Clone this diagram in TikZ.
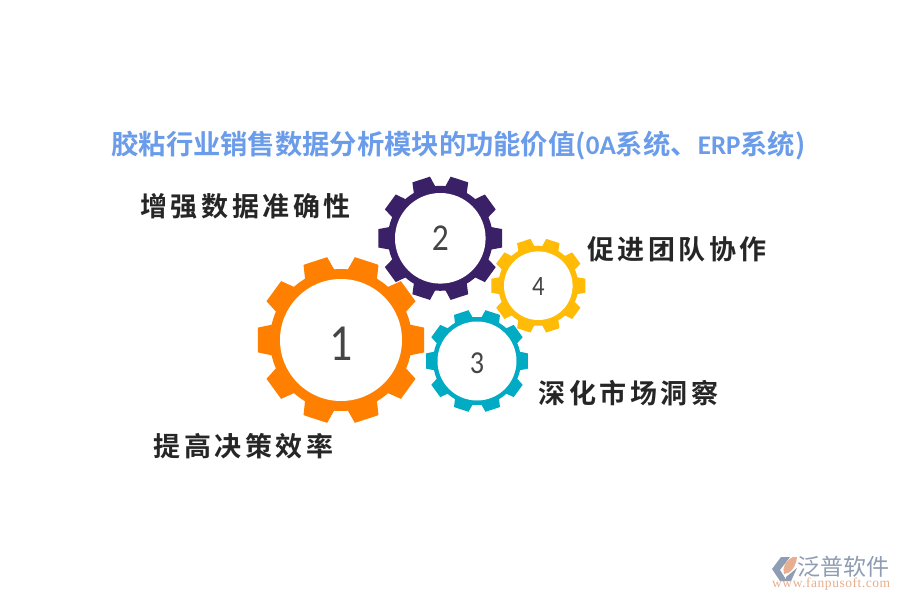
\documentclass[tikz,border=0pt]{standalone}
\usepackage{fontspec}
\setmainfont{Noto Sans CJK SC}
\newfontfamily\titlefont{Noto Sans CJK SC Bold}
\newfontfamily\titlelatin{Carlito Bold}
\newfontfamily\labelfont{Noto Sans CJK SC Bold}[LetterSpace=13]
\newfontfamily\digitfont{Carlito}[FakeStretch=0.88]
\newfontfamily\logofont{Noto Sans CJK SC}
\newfontfamily\urlfont{Liberation Serif}[LetterSpace=4]
\definecolor{titleblue}{HTML}{6A9CEA}
\definecolor{labeldark}{HTML}{262626}
\definecolor{gearorange}{HTML}{FF7F00}
\definecolor{gearpurple}{HTML}{3A2066}
\definecolor{gearteal}{HTML}{00ABC3}
\definecolor{gearyellow}{HTML}{FFBB05}
\definecolor{numgrey}{HTML}{454545}
\definecolor{logoblue}{HTML}{8E9DB3}
\definecolor{logoorange}{HTML}{E8AE90}
\tikzset{
  titletext/.style={font=\titlefont\fontsize{27.3}{28}\selectfont,text=titleblue,inner sep=0pt},
  labeltext/.style={font=\labelfont\fontsize{27}{28}\selectfont,text=labeldark,inner sep=0pt},
  gearhub/.style={circle,fill=white,inner sep=0pt},
  digittext/.style={inner sep=0pt,text=numgrey},
  logotext/.style={font=\logofont\fontsize{23}{25}\selectfont,text=logoblue,inner sep=0pt},
  logourl/.style={font=\urlfont\fontsize{13.5}{15}\selectfont,text=logoorange,inner sep=0pt}
}
% #1 name, #2 x, #3 y, #4 outer, #5 root, #6 hub radius, #7 colour
\newcommand{\mygear}[7]{%
  \begin{scope}[shift={(#2,#3)}]
    \fill[#7] (0,0) circle[radius=#5];
    \foreach \a in {0,36,...,324}{
      \fill[#7] ({\a-13}:{#5-1.5}) -- ({\a-8.5}:#4) -- ({\a+8.5}:#4) -- ({\a+13}:{#5-1.5}) -- cycle;
    }
  \end{scope}
  \node[gearhub,minimum size={2*#6 pt}] (#1) at (#2,#3) {};
}
\begin{document}
\begin{tikzpicture}[x=1pt,y=-1pt]
\useasboundingbox (0,0) rectangle (900,600);
\fill[white] (0,0) rectangle (900,600);
\node[titletext,anchor=center] (title) at (458.5,145.5) {胶粘行业销售数据分析模块的功能价值({\titlelatin\fontsize{27}{28}\selectfont 0A}系统、{\titlelatin\fontsize{27}{28}\selectfont ERP}系统)};
\mygear{g1}{341}{340}{84}{71}{61}{gearorange}
\mygear{g2}{440.3}{238.3}{62.5}{52.5}{45.3}{gearpurple}
\mygear{g3}{477}{361}{51.5}{44}{39.5}{gearteal}
\mygear{g4}{538.3}{285.7}{47.5}{40}{34.3}{gearyellow}
\node[digittext,font=\digitfont\fontsize{52}{52}\selectfont] (n1) at (341,343.5) {1};
\node[digittext,font=\digitfont\fontsize{38}{38}\selectfont] (n2) at (440.3,238) {2};
\node[digittext,font=\digitfont\fontsize{32}{32}\selectfont] (n3) at (477,363) {3};
\node[digittext,font=\digitfont\fontsize{28}{28}\selectfont] (n4) at (538.3,286.7) {4};
\node[labeltext,anchor=center] (l2) at (245.5,206) {增强数据准确性};
\node[labeltext,anchor=center] (l4) at (677,249) {促进团队协作};
\node[labeltext,anchor=center] (l3) at (628.5,393) {深化市场洞察};
\node[labeltext,anchor=center] (l1) at (243.5,446) {提高决策效率};
% logo
\fill[logoblue] (781,557) -- (790,557) -- (780,570) -- (787,581) -- (780,581) -- (772,569) -- cycle;
\fill[logoorange] (797,557) -- (793,557) .. controls (785,561) and (782,568) .. (784,574) .. controls (791,574) and (796,566) .. (797,557) -- cycle;
\fill[logoblue] (786,577) -- (797,568) -- (791,581) -- (786,581) -- cycle;
\node[logotext,anchor=west] (brand) at (797,567) {泛普软件};
\node[logourl,anchor=west] (url) at (772,584.5) {www.fanpusoft.com};
\end{tikzpicture}
\end{document}
